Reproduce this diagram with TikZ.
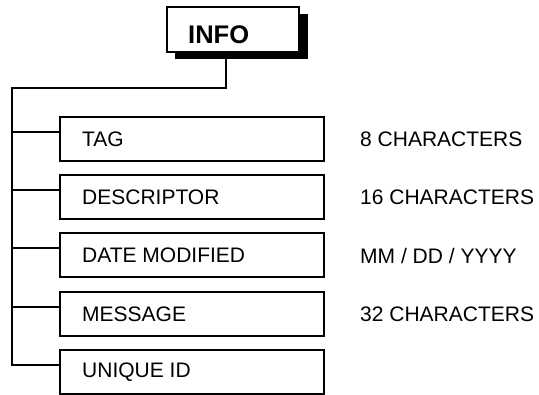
\documentclass[tikz,border=0pt]{standalone}
\usepackage{fontspec}
\setmainfont{Liberation Sans}
\begin{document}
\begin{tikzpicture}[x=1pt,y=-1pt,
  field/.style={draw=black,line width=2pt,minimum width=264pt,minimum height=44pt,inner sep=0pt,outer sep=0pt},
  ftext/.style={anchor=west,inner sep=0pt,font=\fontsize{21}{24}\selectfont},
  wire/.style={line width=2pt,line cap=rect}]
\useasboundingbox (0,0) rectangle (539,395);
% INFO box with shadow
\fill[black] (175,14) rectangle (308,59);
\node[draw=black,fill=white,line width=2pt,minimum width=132pt,minimum height=45pt,inner sep=0pt,outer sep=0pt,anchor=north west] (info) at (167,7) {};
\node[anchor=west,inner sep=0pt,font=\fontsize{25.5}{28}\selectfont\bfseries] (infot) at (188,34.5) {INFO};
\coordinate (top) at (226,59);
\coordinate (corner) at (226,88);
\coordinate (left) at (12,88);
% fields
\foreach \n/\t/\y/\r in {tag/TAG/139/{8 CHARACTERS},desc/DESCRIPTOR/197.5/{16 CHARACTERS},date/DATE MODIFIED/255.5/{MM / DD / YYYY},msg/MESSAGE/314/{32 CHARACTERS},uid/UNIQUE ID/372.5/{}}{
  \node[field] (\n) at (192,\y) {};
  \node[ftext] (\n t) at (82,\y) {\t};
  \node[ftext] (\n r) at (360,\y) {\r};
  \coordinate (\n b) at (12,\y-7);
  \draw[wire] (\n b) -- (\n b -| \n.west);
}
\draw[wire] (top) -- (corner) -- (left) -- (uidb);
\end{tikzpicture}
\end{document}
